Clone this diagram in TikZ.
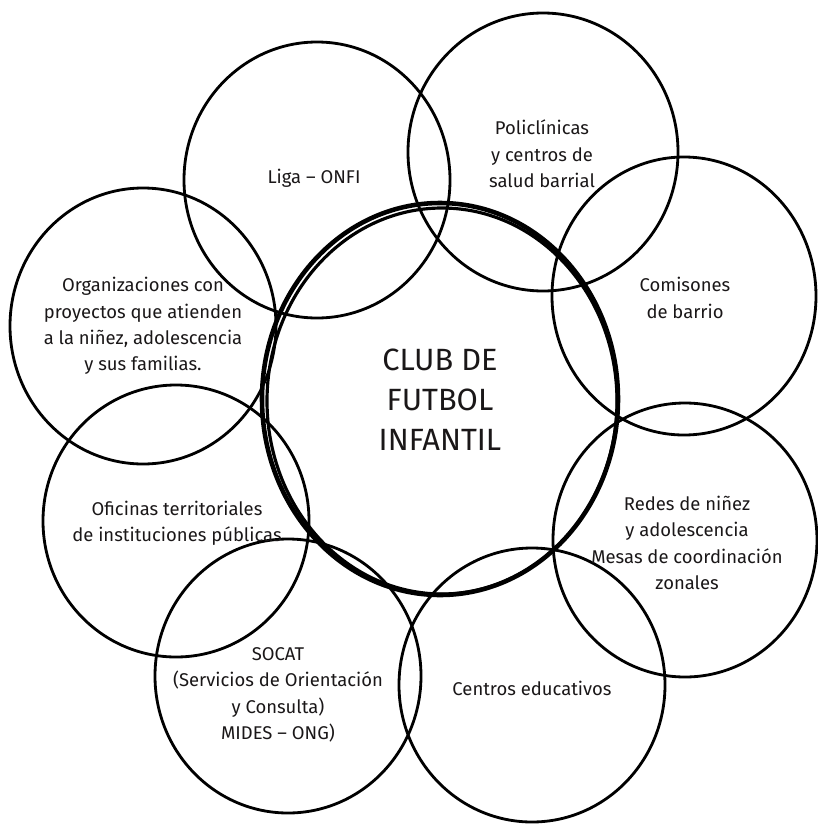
\documentclass[tikz,border=0pt]{standalone}
\usepackage{fontspec}
\setmainfont{Fira Sans}
\definecolor{ink}{HTML}{1A1718}
\tikzset{
  ring/.style={draw=black, line width=1.6pt},
  hub/.style={draw=black, line width=2.6pt},
  lbl/.style={align=center, text=ink, font=\fontsize{10.5}{15}\selectfont},
  title/.style={align=center, text=ink, font=\fontsize{17.5}{22.7}\selectfont}
}
\begin{document}
\begin{tikzpicture}[x=0.02cm, y=-0.02cm]
     \useasboundingbox (0,0) rectangle (818,825);
     % circles around the club
     \draw[ring] (317,180) ellipse [x radius=133, y radius=138];
     \draw[ring] (543,152) ellipse [x radius=135, y radius=139];
     \draw[ring] (684,296) ellipse [x radius=132, y radius=139];
     \draw[ring] (685,540) ellipse [x radius=132, y radius=137];
     \draw[ring] (532,685) ellipse [x radius=133, y radius=137];
     \draw[ring] (288,676) ellipse [x radius=133, y radius=137];
     \draw[ring] (176,521) ellipse [x radius=133, y radius=136];
     \draw[ring] (143,326) ellipse [x radius=133, y radius=138];
     % the club, drawn twice
     \draw[hub] (440,399) ellipse [x radius=178, y radius=196];
     \draw[hub, line width=1.8pt] (442,401) ellipse [x radius=175, y radius=193];
     % texts
     \node[title] (club) at (440,400) {CLUB DE\\FUTBOL\\INFANTIL};
     \node[lbl] (liga) at (314,178) {Liga – ONFI};
     \node[lbl] (poli) at (542,154) {Policlínicas\\y centros de\\salud barrial};
     \node[lbl] (comis) at (685,298) {Comisones\\de barrio};
     \node[lbl] (redes) at (687,543) {Redes de niñez\\y adolescencia\\Mesas de coordinación\\zonales};
     \node[lbl] (centros) at (532,688) {Centros educativos};
     \node[lbl] (socat) at (278,695) {SOCAT\\(Servicios de Orientación\\y Consulta)\\MIDES – ONG)};
     \node[lbl] (ofic) at (177,523) {Oficinas territoriales\\de instituciones públicas};
     \node[lbl] (orgs) at (143,326) {Organizaciones con\\proyectos que atienden\\a la niñez, adolescencia\\y sus familias.};
\end{tikzpicture}
\end{document}
